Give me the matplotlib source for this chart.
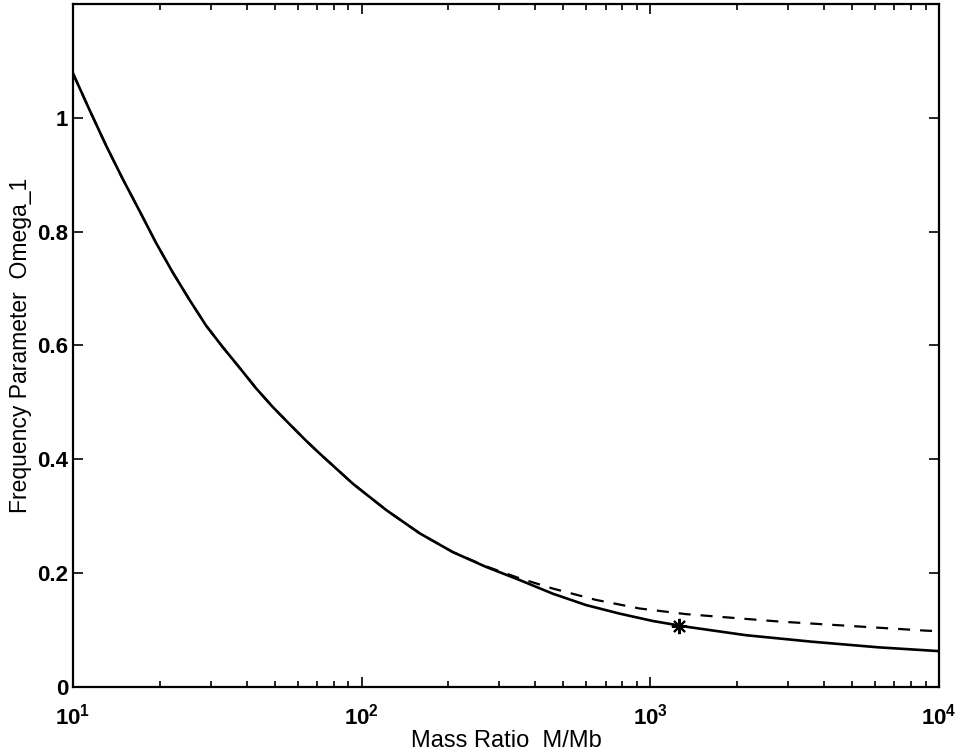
import matplotlib

matplotlib.use("Agg")
import matplotlib.pyplot as plt
from matplotlib.ticker import LogLocator, NullFormatter

# values
mass_ratio = [10, 11.43, 13.03, 14.89, 17.02, 19.41, 22.18, 25.35, 28.91, 33.04, 37.76, 43.05,
              49.2, 56.23, 64.12, 71.61, 93.33, 121.6, 158.9, 207.0, 269.8, 352.4, 459.2,
              598.4, 781.6, 1019, 1327, 2143, 3639, 6194, 10000]
omega_exact = [1.078, 1.013, 0.951, 0.892, 0.836, 0.780, 0.728, 0.680, 0.635, 0.597, 0.561, 0.525,
               0.492, 0.462, 0.433, 0.410, 0.357, 0.311, 0.270, 0.237, 0.211, 0.188, 0.164,
               0.144, 0.129, 0.116, 0.106, 0.091, 0.0795, 0.0696, 0.063]

mass_ratio_approx = [10, 11.43, 13.03, 14.89, 17.02, 19.41, 22.18, 25.35, 28.91, 33.04, 37.76, 43.05,
                     49.2, 56.23, 64.12, 71.61, 93.33, 121.6, 158.9, 207.0, 269.8, 352.4, 459.2,
                     648.6, 916, 1330, 2793, 8995, 10000]
omega_approx = [1.078, 1.013, 0.951, 0.892, 0.836, 0.780, 0.728, 0.680, 0.635, 0.597, 0.561, 0.525,
                0.492, 0.462, 0.433, 0.410, 0.357, 0.311, 0.270, 0.237, 0.212, 0.191, 0.173,
                0.153, 0.138, 0.128, 0.115, 0.099, 0.098]

marker_x = [1262]
marker_y = [0.107]

plt.rcParams["font.family"] = ["Liberation Sans", "DejaVu Sans"]

fig = plt.figure(figsize=(9.58, 7.55), dpi=100)
ax = fig.add_axes([0.0762, 0.0901, 0.9038, 0.9046])

ax.plot(mass_ratio, omega_exact, color="black", lw=1.9)
ax.plot(mass_ratio_approx, omega_approx, color="black", lw=1.6, dashes=(5.4, 4.5))
ax.plot(marker_x, marker_y, linestyle="none", marker=(8, 2, 0), markersize=11,
        markeredgecolor="black", markeredgewidth=1.5, color="black")

ax.set_xscale("log")
ax.set_xlim(10, 10000)
ax.set_ylim(0, 1.2)
ax.set_yticks([0, 0.2, 0.4, 0.6, 0.8, 1.0])
ax.set_yticklabels(["0", "0.2", "0.4", "0.6", "0.8", "1"])
ax.xaxis.set_major_locator(LogLocator(base=10, numticks=10))
ax.xaxis.set_minor_locator(LogLocator(base=10, subs=range(2, 10), numticks=20))
ax.xaxis.set_minor_formatter(NullFormatter())

ax.tick_params(which="both", direction="in", top=True, right=True, width=1.2)
ax.tick_params(which="major", length=7, labelsize=16)
ax.tick_params(axis="x", which="major", pad=12)
ax.tick_params(which="minor", length=4)
for lab in ax.get_xticklabels() + ax.get_yticklabels():
    lab.set_fontweight("bold")
for side in ax.spines.values():
    side.set_linewidth(1.6)

ax.set_xlabel("Mass Ratio  M/Mb", fontsize=17, labelpad=0)
ax.set_ylabel("Frequency Parameter  Omega_1", fontsize=16.5, labelpad=4)

fig.savefig("out.png", dpi=100)
plt.close(fig)
